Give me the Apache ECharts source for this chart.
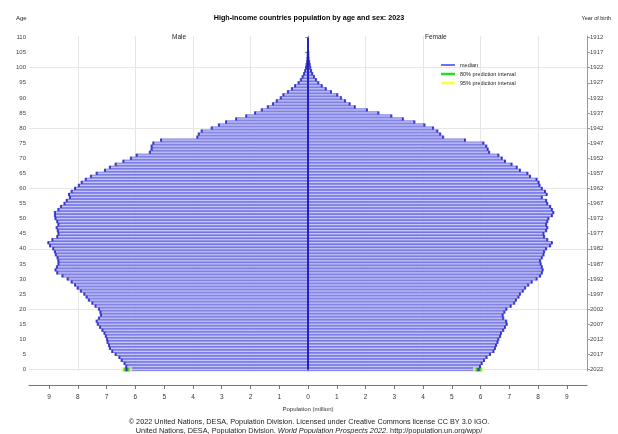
<!DOCTYPE html>
<html><head><meta charset="utf-8">
<script src="https://cdn.jsdelivr.net/npm/echarts@6/dist/echarts.min.js"></script>
<style>html,body{margin:0;padding:0;background:#fff}#c{width:618px;height:434px}</style>
</head><body><div id="c"></div>
<script>
var ages = [];
for (var i = 0; i <= 110; i++) ages.push(String(i));
var birthYears = ages.map(function(a){ return String(2022 - Number(a)); });
var xTicks = [-9,-8,-7,-6,-5,-4,-3,-2,-1,0,1,2,3,4,5,6,7,8,9];
var xGrid = [-8,-6,-4,-2,2,4,6,8];
var yGrid = ['0','20','40','60','80','100'];

// Male population (million), ages 0..105
var male = [6.31,6.32,6.38,6.48,6.56,6.69,6.81,6.89,6.92,6.97,
  6.99,7.03,7.08,7.15,7.23,7.31,7.35,7.27,7.20,7.22,
  7.27,7.39,7.50,7.62,7.70,7.78,7.90,8.01,8.10,8.22,
  8.36,8.54,8.72,8.78,8.73,8.68,8.68,8.71,8.77,8.80,
  8.86,8.97,9.03,8.89,8.72,8.68,8.70,8.74,8.68,8.72,
  8.78,8.80,8.80,8.68,8.59,8.47,8.39,8.28,8.31,8.22,
  8.10,7.97,7.87,7.73,7.55,7.35,7.06,6.89,6.69,6.42,
  6.16,5.96,5.50,5.44,5.44,5.38,5.11,3.85,3.80,3.70,
  3.35,3.10,2.85,2.50,2.15,1.84,1.61,1.40,1.22,1.09,
  0.95,0.86,0.70,0.56,0.45,0.33,0.25,0.19,0.14,0.10,
  0.07,0.05,0.03,0.02,0.01,0.01];
// Female population (million), ages 0..105
var female = [5.93,5.98,6.04,6.12,6.21,6.33,6.45,6.50,6.54,6.59,
  6.62,6.68,6.71,6.79,6.85,6.91,6.89,6.79,6.77,6.83,
  6.90,7.05,7.17,7.23,7.32,7.37,7.47,7.55,7.66,7.78,
  7.95,8.07,8.13,8.16,8.13,8.09,8.07,8.13,8.19,8.21,
  8.28,8.42,8.48,8.32,8.21,8.19,8.28,8.32,8.28,8.32,
  8.36,8.48,8.53,8.48,8.42,8.32,8.28,8.13,8.30,8.24,
  8.13,8.05,8.02,7.95,7.72,7.63,7.37,7.26,7.08,6.85,
  6.74,6.62,6.30,6.25,6.20,6.10,5.46,4.70,4.60,4.50,
  4.35,4.05,3.70,3.30,2.90,2.45,2.05,1.63,1.45,1.29,
  1.15,1.02,0.80,0.62,0.48,0.36,0.28,0.21,0.15,0.11,
  0.08,0.06,0.04,0.02,0.01,0.01];

var maleNeg = male.map(function(v){ return -v; });
var maleEnds = male.map(function(v,i){ return [-v, ages[i]]; });
var femaleEnds = female.map(function(v,i){ return [v, ages[i]]; });

var FONT = 'Liberation Sans, Arial, sans-serif';
var chart = echarts.init(document.getElementById('c'), null, {renderer:'canvas'});
chart.setOption({
  animation:false,
  backgroundColor:'#ffffff',
  textStyle:{fontFamily:FONT},
  title:{text:'High-income countries population by age and sex: 2023', left:'center', top:10,
    textStyle:{fontSize:7.2, fontWeight:'bold', color:'#000', fontFamily:FONT}},
  grid:{left:29, right:31, top:36, bottom:63},
  xAxis:{type:'value', min:-9.7, max:9.7, offset:14,
    name:'Population (million)', nameLocation:'middle', nameGap:21,
    nameTextStyle:{fontSize:6, color:'#333'},
    axisLine:{show:true, lineStyle:{color:'#777', width:1}},
    axisTick:{show:true, customValues:xTicks, length:4, lineStyle:{color:'#777'}},
    axisLabel:{customValues:xTicks, fontSize:6.5, color:'#333', margin:9,
      formatter:function(v){ return String(Math.abs(Math.round(v))); }},
    splitLine:{show:false}},
  yAxis:[
    {type:'category', data:ages, position:'left',
     axisLine:{show:true, lineStyle:{color:'#999'}},
     axisTick:{show:true, interval:4, alignWithLabel:true, length:3, lineStyle:{color:'#999'}},
     axisLabel:{interval:4, fontSize:6, color:'#444', margin:3},
     splitLine:{show:false}},
    {type:'category', data:birthYears, position:'right',
     axisLine:{show:true, lineStyle:{color:'#999'}},
     axisTick:{show:true, interval:4, alignWithLabel:true, length:3, lineStyle:{color:'#999'}},
     axisLabel:{interval:4, fontSize:6, color:'#444', margin:3},
     splitLine:{show:false}}
  ],
  series:[
    {name:'grid', type:'scatter', data:[[0,'0']], symbolSize:0, silent:true, z:0,
     markLine:{silent:true, symbol:'none', label:{show:false}, z:0,
       lineStyle:{color:'#e6e6e6', width:1, type:'solid'},
       data: xGrid.map(function(v){ return {xAxis:v}; }).concat(yGrid.map(function(v){ return {yAxis:v}; }))}},
    {name:'male', type:'bar', data:maleNeg, barGap:'-100%', barCategoryGap:'0%',
     itemStyle:{color:'#c6c6f6', borderColor:'#5252dc', borderWidth:0.7}, z:2},
    {name:'female', type:'bar', data:female,
     itemStyle:{color:'#c6c6f6', borderColor:'#5252dc', borderWidth:0.7},
     markLine:{silent:true, symbol:'none', label:{show:false},
       lineStyle:{color:'#2424b8', width:2, type:'solid'},
       data:[[{coord:[0,'0']},{coord:[0,'110']}]]},
     z:3},
    {name:'ends95', type:'scatter', data:[maleEnds[0], femaleEnds[0]], symbol:'rect', symbolSize:[11,5],
     itemStyle:{color:'rgba(255,245,90,0.85)'}, z:4, silent:true},
    {name:'ends80', type:'scatter', data:[maleEnds[0], femaleEnds[0]], symbol:'rect', symbolSize:[6,4],
     itemStyle:{color:'#22cc22'}, z:5, silent:true},
    {name:'mEnds', type:'scatter', data:maleEnds, symbol:'rect', symbolSize:[2,3.2],
     itemStyle:{color:'#1c1cc4'}, z:6, silent:true},
    {name:'fEnds', type:'scatter', data:femaleEnds, symbol:'rect', symbolSize:[2,3.2],
     itemStyle:{color:'#1c1cc4'}, z:6, silent:true}
  ],
  graphic:[
    {type:'text', left:16, top:15, style:{text:'Age', fontSize:6, fill:'#222', fontFamily:FONT}},
    {type:'text', right:7, top:15, style:{text:'Year of birth', fontSize:5.5, fill:'#222', fontFamily:FONT}},
    {type:'text', left:172, top:34, style:{text:'Male', fontSize:6.5, fill:'#222', fontFamily:FONT}},
    {type:'text', left:425, top:34, style:{text:'Female', fontSize:6.5, fill:'#222', fontFamily:FONT}},
    {type:'line', shape:{x1:441,y1:65,x2:455,y2:65}, style:{stroke:'#4040e0', lineWidth:1.5}},
    {type:'line', shape:{x1:441,y1:74,x2:455,y2:74}, style:{stroke:'#22dd22', lineWidth:2.5}},
    {type:'line', shape:{x1:441,y1:83,x2:455,y2:83}, style:{stroke:'#ffff33', lineWidth:2.5}},
    {type:'text', left:460, top:62, style:{text:'median', fontSize:5.5, fill:'#222', fontFamily:FONT}},
    {type:'text', left:460, top:71, style:{text:'80% prediction interval', fontSize:5.5, fill:'#222', fontFamily:FONT}},
    {type:'text', left:460, top:80, style:{text:'95% prediction interval', fontSize:5.5, fill:'#222', fontFamily:FONT}},
    {type:'text', left:'center', top:418, style:{text:'© 2022 United Nations, DESA, Population Division. Licensed under Creative Commons license CC BY 3.0 IGO.', fontSize:7.3, fill:'#222', fontFamily:FONT}},
    {type:'text', left:'center', top:427, style:{rich:{n:{fontSize:7.3, fill:'#222', fontFamily:FONT}, i:{fontSize:7.3, fill:'#222', fontStyle:'italic', fontFamily:FONT}},
      text:'{n|United Nations, DESA, Population Division. }{i|World Population Prospects 2022}{n|. http://population.un.org/wpp/}'}}
  ]
});
</script></body></html>
